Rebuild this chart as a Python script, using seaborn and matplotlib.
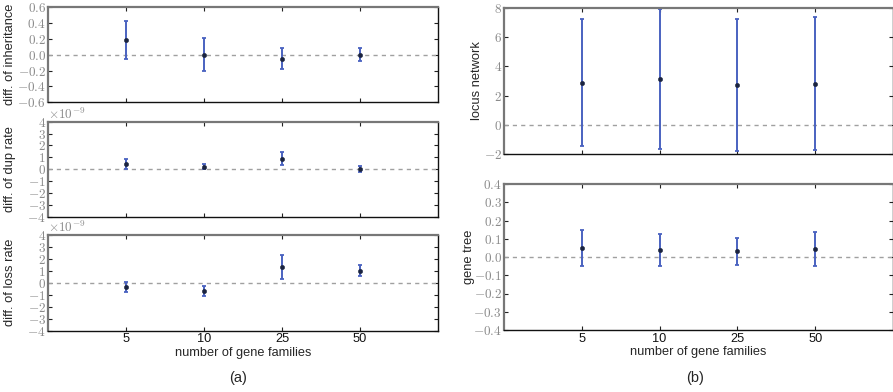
import numpy as np
import pandas as pd
import matplotlib
matplotlib.use("Agg")
import matplotlib.pyplot as plt
import seaborn as sns
from matplotlib.ticker import FuncFormatter, FixedLocator

sns.set_theme(style="white")
plt.rcParams['font.family'] = ['Liberation Sans', 'DejaVu Sans']
plt.rcParams['mathtext.fontset'] = 'cm'

# ---- data ----
categories = ["5", "10", "25", "50"]

inherit_mean = [0.19, 0.0, -0.05, 0.0]
inherit_err = [0.24, 0.21, 0.13, 0.085]

dup_mean = [0.42e-9, 0.20e-9, 0.88e-9, 0.03e-9]
dup_err = [0.40e-9, 0.22e-9, 0.55e-9, 0.24e-9]

loss_mean = [-0.36e-9, -0.73e-9, 1.31e-9, 1.00e-9]
loss_err = [0.40e-9, 0.42e-9, 1.02e-9, 0.46e-9]

locus_mean = [2.87, 3.14, 2.73, 2.82]
locus_err = [4.33, 4.80, 4.50, 4.55]

gtree_mean = [0.049, 0.037, 0.031, 0.044]
gtree_err = [0.10, 0.087, 0.075, 0.095]

inherit_ticks = [-0.6, -0.4, -0.2, 0.0, 0.2, 0.4, 0.6]
rate_ticks = [-4, -3, -2, -1, 0, 1, 2, 3, 4]
locus_ticks = [-2, 0, 2, 4, 6, 8]
gtree_ticks = [-0.4, -0.3, -0.2, -0.1, 0.0, 0.1, 0.2, 0.3, 0.4]

W, H = 893, 392
fig = plt.figure(figsize=(W / 100, H / 100), dpi=100)


def px_axes(x0, x1, y0, y1):
    return fig.add_axes([x0 / W, 1 - y1 / H, (x1 - x0) / W, (y1 - y0) / H])


BAR = '#4a62c0'
DOT = '#1b2440'
TICKC = '#8a8a8a'


def panel(ax, mean, err, ticks, ylabel, fmt, scale=1.0, show_x=False):
    pos = np.arange(1, len(categories) + 1)
    df = pd.DataFrame({'x': pos, 'y': mean})
    ax.axhline(0, color='#a0a0a0', lw=1.0, ls=(0, (3, 3)), zorder=1)
    ax.errorbar(pos, mean, yerr=err, fmt='none', ecolor=BAR, elinewidth=1.4,
                capsize=1.6, capthick=1.3, zorder=2)
    sns.scatterplot(data=df, x='x', y='y', ax=ax, color=DOT, s=10,
                    edgecolor=DOT, linewidth=0.3, zorder=3, legend=False)
    ax.set_xlim(0, len(categories) + 1)
    ax.set_ylim(ticks[0] * scale, ticks[-1] * scale)
    ax.yaxis.set_major_locator(FixedLocator([t * scale for t in ticks]))
    ax.yaxis.set_major_formatter(FuncFormatter(fmt))
    ax.xaxis.set_major_locator(FixedLocator(pos))
    if show_x:
        ax.set_xticklabels(categories)
        ax.set_xlabel("number of gene families", fontsize=9.2, labelpad=1)
    else:
        ax.set_xticklabels([])
        ax.set_xlabel("")
    ax.set_ylabel(ylabel, fontsize=9.3)
    ax.tick_params(axis='both', which='both', direction='in', length=3,
                   width=0.8, top=True, right=True, bottom=True, left=True,
                   colors='#222222')
    ax.tick_params(axis='y', labelcolor=TICKC, labelsize=9.5, pad=1.5)
    ax.tick_params(axis='x', labelcolor='#111111', labelsize=9.2, pad=2)
    for s in ['top', 'left']:
        ax.spines[s].set_color('#777777')
        ax.spines[s].set_linewidth(1.6)
    for s in ['bottom', 'right']:
        ax.spines[s].set_color('#111111')
        ax.spines[s].set_linewidth(1.0)
    ax.set_facecolor('white')
    ax.grid(False)


f_dec1 = lambda v, p: r'$%.1f$' % v
f_int = lambda v, p: r'$%d$' % round(v)
f_e9 = lambda v, p: r'$%d$' % round(v * 1e9)

ax1 = px_axes(48, 438, 7, 102.3)
panel(ax1, inherit_mean, inherit_err, inherit_ticks, "diff. of inheritance", f_dec1)
ax2 = px_axes(48, 438, 121.7, 216.7)
panel(ax2, dup_mean, dup_err, rate_ticks, "diff. of dup rate", f_e9, scale=1e-9)
ax3 = px_axes(48, 438, 235, 330.5)
panel(ax3, loss_mean, loss_err, rate_ticks, "diff. of loss rate", f_e9, scale=1e-9, show_x=True)

ax4 = px_axes(504, 893, 7.7, 154.3)
panel(ax4, locus_mean, locus_err, locus_ticks, "locus network", f_int)
ax5 = px_axes(504, 893, 184, 330)
panel(ax5, gtree_mean, gtree_err, gtree_ticks, "gene tree", f_dec1, show_x=True)

for ax in (ax2, ax3):
    ax.text(0.0, 1.0, r'$\times10^{-9}$', transform=ax.transAxes, color=TICKC,
            fontsize=9.5, ha='left', va='bottom')

for ax in (ax1, ax2, ax3):
    ax.yaxis.set_label_coords(-0.082, 0.5)
ax4.yaxis.set_label_coords(-0.055, 0.5)
ax5.yaxis.set_label_coords(-0.075, 0.5)

fig.text(238 / W, 1 - 378 / H, "(a)", ha='center', va='center', fontsize=10.5)
fig.text(695 / W, 1 - 378 / H, "(b)", ha='center', va='center', fontsize=10.5)

fig.savefig("out.png", dpi=100, facecolor='white')
